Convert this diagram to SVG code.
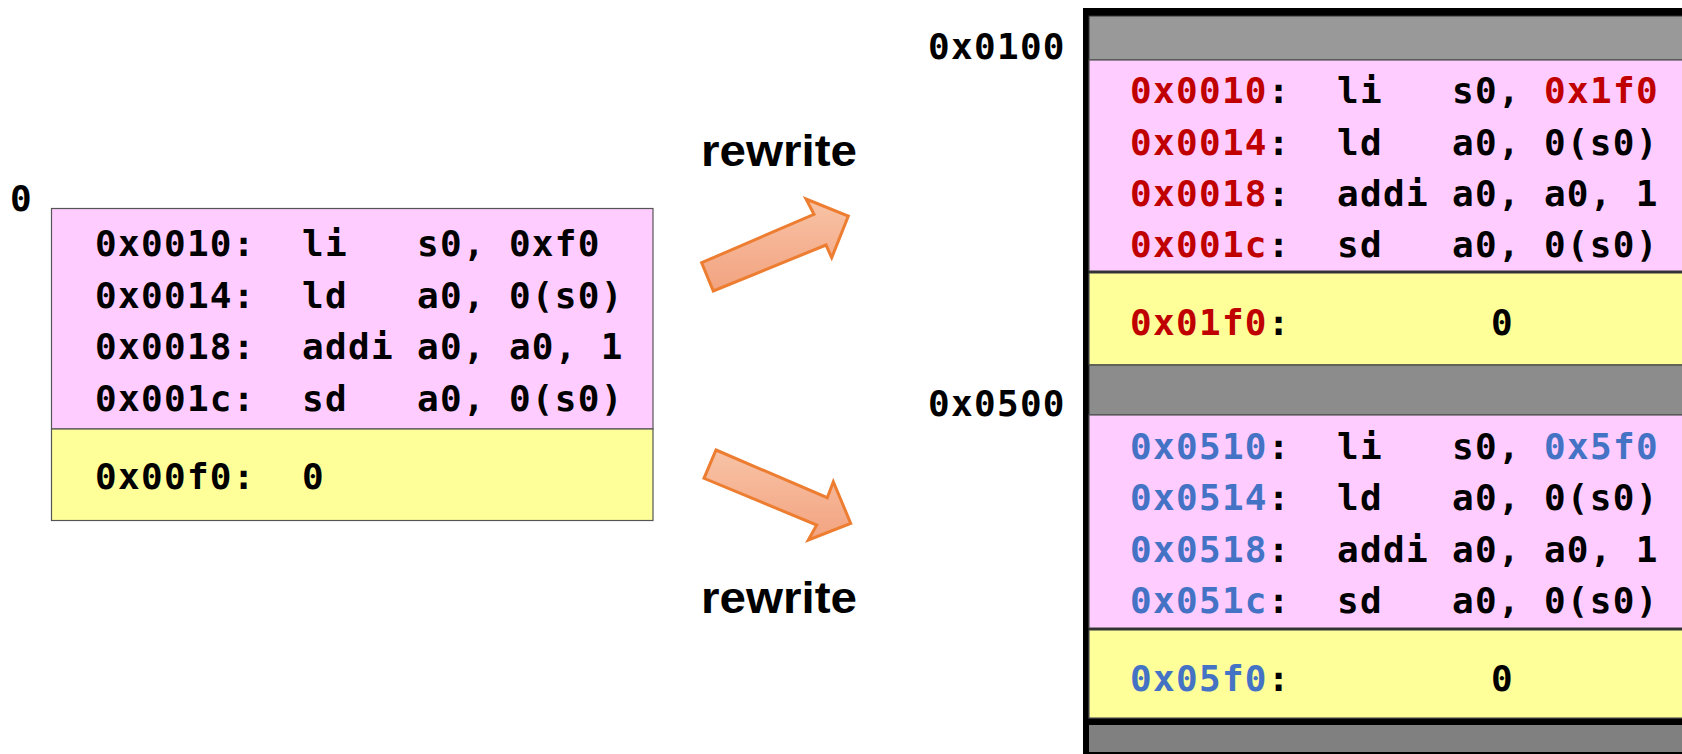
<svg xmlns="http://www.w3.org/2000/svg" width="1682" height="754" viewBox="0 0 1682 754">
<style>
.m{font-family:"DejaVu Sans Mono","Liberation Mono",monospace;font-weight:bold;font-size:36px;letter-spacing:1.3px;fill:#000}
.r{fill:#C00000}
.b{fill:#4472C4}
.lbl{font-family:"Liberation Sans","Open Sans",Arial,sans-serif;font-weight:bold;font-size:45px;fill:#000}
.pink{fill:#FFCCFF;stroke:#555;stroke-width:1.2}
.yel{fill:#FFFF99;stroke:#555;stroke-width:1.2}
.arrow{fill:url(#og);stroke:#ED7D31;stroke-width:3;stroke-linejoin:miter}
</style>
<defs>
<linearGradient id="og" x1="0" y1="0" x2="0" y2="1">
<stop offset="0" stop-color="#F8C3A6"/>
<stop offset="1" stop-color="#F2A380"/>
</linearGradient>
</defs>
<rect width="1682" height="754" fill="#fff"/>

<g id="orig">
<text class="m" x="10" y="211">0</text>
<rect class="pink" x="51.5" y="208.5" width="601.5" height="220.5"/>
<rect class="yel" x="51.5" y="429" width="601.5" height="91.5"/>
<text class="m" y="256"><tspan x="95">0x0010:</tspan><tspan x="302">li</tspan><tspan x="417">s0, 0xf0</tspan></text>
<text class="m" y="307.5"><tspan x="95">0x0014:</tspan><tspan x="302">ld</tspan><tspan x="417">a0, 0(s0)</tspan></text>
<text class="m" y="359"><tspan x="95">0x0018:</tspan><tspan x="302">addi</tspan><tspan x="417">a0, a0, 1</tspan></text>
<text class="m" y="410.5"><tspan x="95">0x001c:</tspan><tspan x="302">sd</tspan><tspan x="417">a0, 0(s0)</tspan></text>
<text class="m" y="489"><tspan x="95">0x00f0:</tspan><tspan x="302">0</tspan></text>
</g>

<g id="memory">
<rect x="1083" y="8" width="620" height="760" fill="#000"/>
<rect x="1089" y="16" width="600" height="44" fill="#999999" stroke="#333" stroke-width="1"/>
<rect class="pink" x="1089" y="60" width="600" height="211"/>
<rect class="yel" x="1089" y="273" width="600" height="92"/>
<rect x="1089" y="365" width="600" height="50" fill="#8C8C8C" stroke="#333" stroke-width="1"/>
<rect class="pink" x="1089" y="415" width="600" height="213"/>
<rect class="yel" x="1089" y="630" width="600" height="88"/>
<rect x="1089" y="725" width="600" height="27" fill="#808080"/>
<text class="m" x="928" y="59">0x0100</text>
<text class="m" x="928" y="416">0x0500</text>
</g>

<g id="copy1">
<text class="m" y="103"><tspan x="1130" class="r">0x0010</tspan>:<tspan x="1337">li</tspan><tspan x="1452">s0,</tspan><tspan x="1544" class="r">0x1f0</tspan></text>
<text class="m" y="154.5"><tspan x="1130" class="r">0x0014</tspan>:<tspan x="1337">ld</tspan><tspan x="1452">a0, 0(s0)</tspan></text>
<text class="m" y="206"><tspan x="1130" class="r">0x0018</tspan>:<tspan x="1337">addi</tspan><tspan x="1452">a0, a0, 1</tspan></text>
<text class="m" y="257"><tspan x="1130" class="r">0x001c</tspan>:<tspan x="1337">sd</tspan><tspan x="1452">a0, 0(s0)</tspan></text>
<text class="m" y="335"><tspan x="1130" class="r">0x01f0</tspan>:<tspan x="1491">0</tspan></text>
</g>

<g id="copy2">
<text class="m" y="459"><tspan x="1130" class="b">0x0510</tspan>:<tspan x="1337">li</tspan><tspan x="1452">s0,</tspan><tspan x="1544" class="b">0x5f0</tspan></text>
<text class="m" y="510"><tspan x="1130" class="b">0x0514</tspan>:<tspan x="1337">ld</tspan><tspan x="1452">a0, 0(s0)</tspan></text>
<text class="m" y="561.5"><tspan x="1130" class="b">0x0518</tspan>:<tspan x="1337">addi</tspan><tspan x="1452">a0, a0, 1</tspan></text>
<text class="m" y="613"><tspan x="1130" class="b">0x051c</tspan>:<tspan x="1337">sd</tspan><tspan x="1452">a0, 0(s0)</tspan></text>
<text class="m" y="691"><tspan x="1130" class="b">0x05f0</tspan>:<tspan x="1491">0</tspan></text>
</g>

<g id="connectors">
<polygon class="arrow" points="701.7,262.7 814,214.3 806,199 848.3,216 831.7,257.7 826,245 713.3,291"/>
<polygon class="arrow" points="716,450 827.3,497.7 833.3,481.7 850.7,523.3 808.3,540 816.7,525 704,478.3"/>
<text class="lbl" x="701" y="166" textLength="156" lengthAdjust="spacingAndGlyphs">rewrite</text>
<text class="lbl" x="701" y="612.5" textLength="156" lengthAdjust="spacingAndGlyphs">rewrite</text>
</g>
</svg>
